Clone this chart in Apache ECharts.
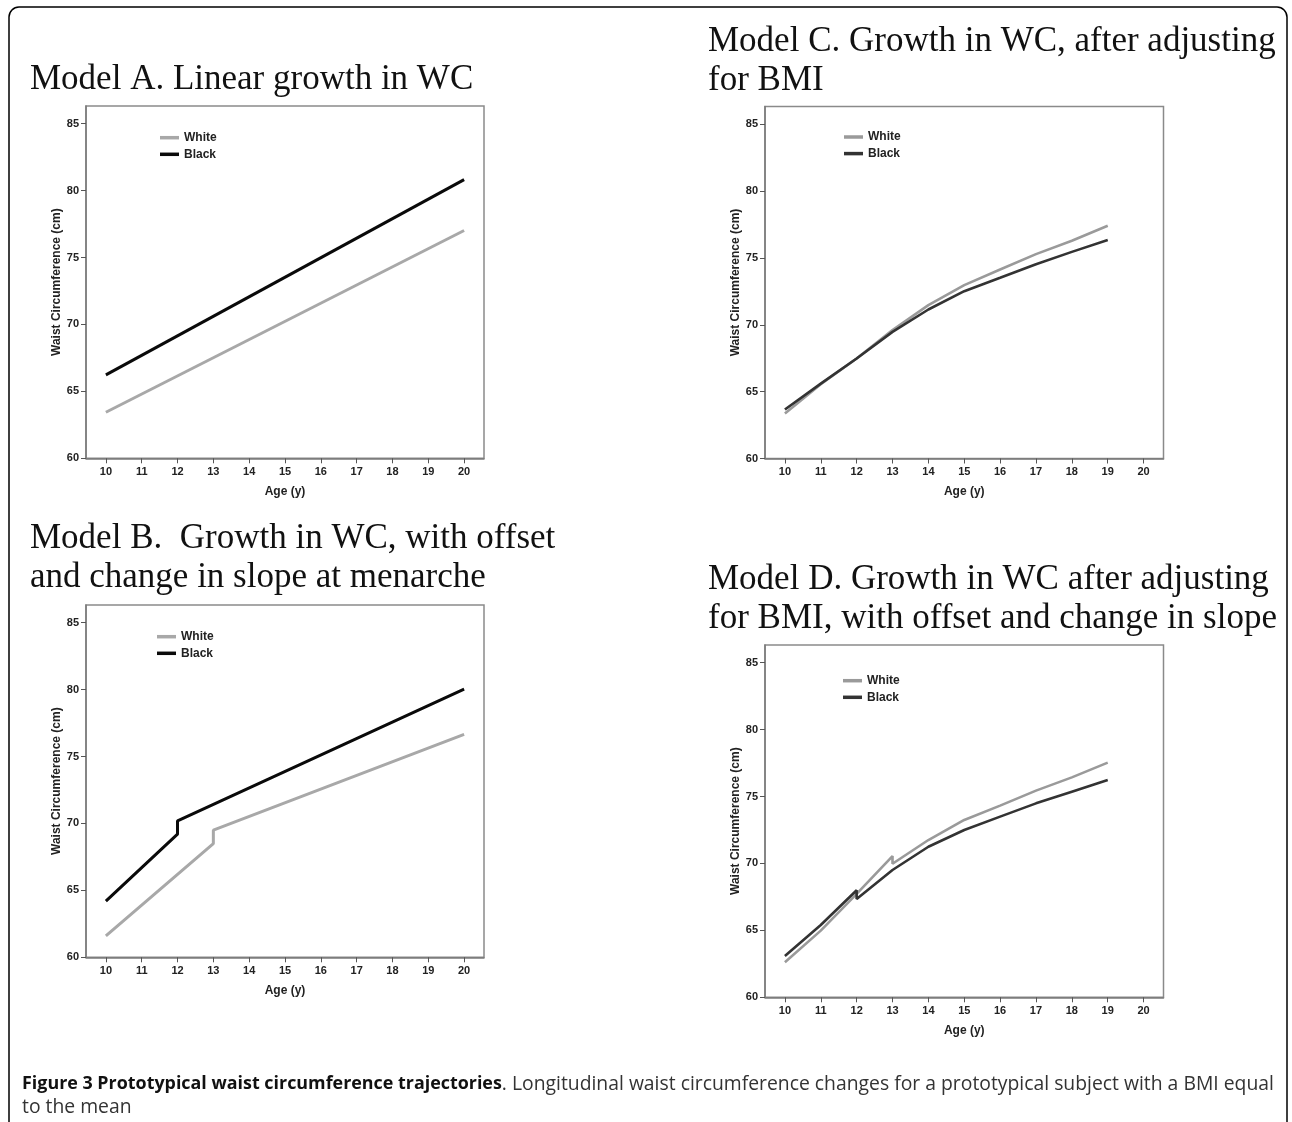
<!DOCTYPE html>
<html>
<head>
<meta charset="utf-8">
<title>Prototypical waist circumference trajectories</title>
<script src="https://cdn.jsdelivr.net/npm/echarts@6/dist/echarts.min.js"></script>
<style>
  html, body { margin: 0; padding: 0; background: #fff; }
  #chart { width: 1292px; height: 1122px; }
</style>
</head>
<body>
<div id="chart"></div>
<script>
// tick labels
const ageTicks = [10, 11, 12, 13, 14, 15, 16, 17, 18, 19, 20];
const wcTicks = [60, 65, 70, 75, 80, 85];

// Model A - straight lines
const agesA = [10, 20];
const whiteA = [63.44, 77.02];
const blackA = [66.23, 80.82];

// Model B - offset + slope change at menarche (white 13, black 12)
const agesWhiteB = [10, 13, 13, 20];
const whiteB = [61.6, 68.5, 69.5, 76.66];
const agesBlackB = [10, 12, 12, 20];
const blackB = [64.2, 69.2, 70.2, 80.04];

// Model C - adjusted for BMI
const agesC = [10, 11, 12, 13, 14, 15, 16, 17, 18, 19];
const whiteC = [63.36, 65.56, 67.48, 69.6, 71.47, 72.96, 74.13, 75.28, 76.28, 77.4];
const blackC = [63.66, 65.6, 67.48, 69.47, 71.14, 72.51, 73.51, 74.53, 75.45, 76.33];

// Model D - adjusted for BMI, with offset
const agesWhiteD = [10, 11, 12, 13, 13, 14, 15, 16, 17, 18, 19];
const whiteD = [62.62, 64.98, 67.72, 70.55, 69.98, 71.75, 73.25, 74.32, 75.44, 76.43, 77.53];
const agesBlackD = [10, 11, 12, 12, 13, 14, 15, 16, 17, 18, 19];
const blackD = [63.09, 65.4, 68.0, 67.35, 69.51, 71.25, 72.5, 73.5, 74.49, 75.36, 76.23];

const sans = '"Liberation Sans", Arial, sans-serif';
const serif = '"Liberation Serif", "Times New Roman", serif';

function zip(xs, ys) {
  return xs.map((x, i) => [x, ys[i]]);
}

// grid boxes, in pixels
const grids = [
  { left: 86, top: 106, width: 398, height: 352.3 },   // A
  { left: 86, top: 605, width: 398, height: 352.3 },   // B
  { left: 765, top: 106.5, width: 398.5, height: 352 }, // C
  { left: 765, top: 645, width: 398.5, height: 352.3 }  // D
];

const xAxes = grids.map((g, i) => ({
  type: 'value',
  gridIndex: i,
  min: 9.445,
  max: 20.555,
  name: 'Age (y)',
  nameLocation: 'middle',
  nameGap: 27,
  nameTextStyle: { fontFamily: sans, fontWeight: 'bold', fontSize: 12, color: '#222' },
  axisLine: { lineStyle: { color: '#7a7a7a', width: 1.5 } },
  axisTick: { show: true, length: 5, customValues: ageTicks, lineStyle: { color: '#555', width: 1 } },
  axisLabel: { customValues: ageTicks, margin: 8, fontFamily: sans, fontWeight: 'bold', fontSize: 11, color: '#222' },
  splitLine: { show: false }
}));

const yAxes = grids.map((g, i) => ({
  type: 'value',
  gridIndex: i,
  min: 60,
  max: 86.32,
  name: 'Waist Circumference (cm)',
  nameLocation: 'middle',
  nameGap: 23,
  nameTextStyle: { fontFamily: sans, fontWeight: 'bold', fontSize: 12, color: '#222' },
  axisLine: { show: true, lineStyle: { color: '#7a7a7a', width: 1.5 } },
  axisTick: { show: true, length: 5, customValues: wcTicks, lineStyle: { color: '#555', width: 1 } },
  axisLabel: { customValues: wcTicks, margin: 7, fontFamily: sans, fontWeight: 'bold', fontSize: 11, color: '#222' },
  splitLine: { show: false }
}));

function lineSeries(name, idx, data, color, width) {
  return {
    name: name,
    type: 'line',
    xAxisIndex: idx,
    yAxisIndex: idx,
    data: data,
    showSymbol: false,
    silent: true,
    lineStyle: { color: color, width: width },
    itemStyle: { color: color }
  };
}

const series = [
  lineSeries('White', 0, zip(agesA, whiteA), '#a8a8a8', 3),
  lineSeries('Black', 0, zip(agesA, blackA), '#0a0a0a', 3),
  lineSeries('White', 1, zip(agesWhiteB, whiteB), '#a8a8a8', 3),
  lineSeries('Black', 1, zip(agesBlackB, blackB), '#0a0a0a', 3),
  lineSeries('White', 2, zip(agesC, whiteC), '#9a9a9a', 2.6),
  lineSeries('Black', 2, zip(agesC, blackC), '#333333', 2.6),
  lineSeries('White', 3, zip(agesWhiteD, whiteD), '#9a9a9a', 2.6),
  lineSeries('Black', 3, zip(agesBlackD, blackD), '#333333', 2.6)
];

function legendAt(left, top, white, black) {
  return {
    left: left,
    top: top,
    orient: 'vertical',
    padding: 0,
    itemGap: 2.6,
    itemWidth: 19,
    itemHeight: 3.5,
    icon: 'rect',
    selectedMode: false,
    textStyle: { fontFamily: sans, fontWeight: 'bold', fontSize: 12, color: '#222', lineHeight: 14 },
    data: [
      { name: 'White', itemStyle: { color: white } },
      { name: 'Black', itemStyle: { color: black } }
    ]
  };
}

const titleStyle = { fontFamily: serif, fontSize: 35, fontWeight: 'normal', color: '#111', lineHeight: 39 };

const chart = echarts.init(document.getElementById('chart'), null, { renderer: 'canvas' });
chart.setOption({
  backgroundColor: '#fff',
  animation: false,
  title: [
    { text: 'Model A. Linear growth in WC', left: 30, top: 60.5, padding: 0, textStyle: titleStyle },
    { text: 'Model B.  Growth in WC, with offset\nand change in slope at menarche', left: 30, top: 519.5, padding: 0, textStyle: titleStyle },
    { text: 'Model C. Growth in WC, after adjusting\nfor BMI', left: 708, top: 22.5, padding: 0, textStyle: titleStyle },
    { text: 'Model D. Growth in WC after adjusting\nfor BMI, with offset and change in slope', left: 708, top: 560.5, padding: 0, textStyle: titleStyle }
  ],
  legend: [
    legendAt(160, 130.7, '#a8a8a8', '#0a0a0a'),
    legendAt(157, 629.7, '#a8a8a8', '#0a0a0a'),
    legendAt(844, 130, '#9a9a9a', '#333333'),
    legendAt(843, 673.7, '#9a9a9a', '#333333')
  ],
  grid: grids.map(g => Object.assign({ show: true, borderColor: '#8a8a8a', borderWidth: 1.5, containLabel: false }, g)),
  xAxis: xAxes,
  yAxis: yAxes,
  series: series,
  graphic: [
    {
      type: 'rect',
      silent: true,
      shape: { x: 9, y: 7, width: 1278, height: 1200, r: 10 },
      style: { fill: 'none', stroke: '#000', lineWidth: 1.5 }
    },
    {
      type: 'text',
      silent: true,
      x: 22,
      y: 1095.5,
      scaleX: 0.967,
      style: {
        text: '{b|Figure 3 Prototypical waist circumference trajectories}. Longitudinal waist circumference changes for a prototypical subject with a BMI equal\nto the mean',
        font: '20px "Open Sans", sans-serif',
        fill: '#333',
        lineHeight: 23,
        verticalAlign: 'middle',
        rich: {
          b: { fontWeight: 'bold', fontFamily: '"Open Sans", sans-serif', fontSize: 18.5, fill: '#111' }
        }
      }
    }
  ]
});
</script>
</body>
</html>
